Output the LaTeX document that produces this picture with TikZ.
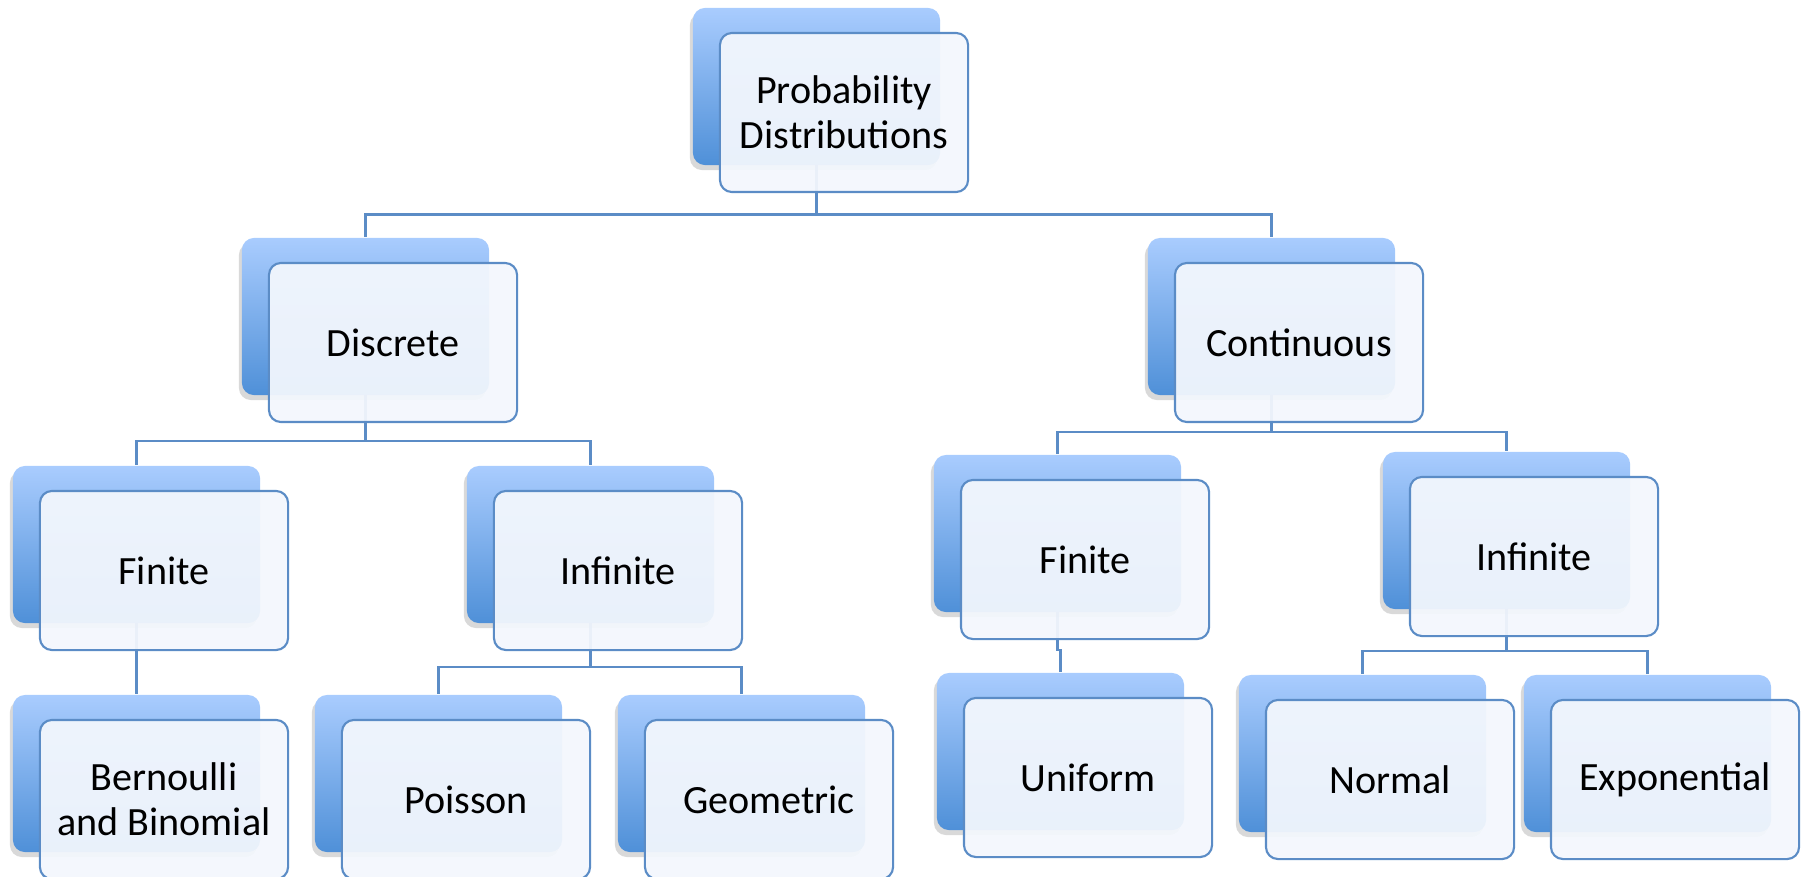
\documentclass[tikz,border=0pt]{standalone}
\usepackage{fontspec}
\setmainfont{Carlito}
\usepackage{tikz}
\usetikzlibrary{backgrounds, shadows}
\definecolor{backtop}{HTML}{A9CCFE}
\definecolor{backbot}{HTML}{4F90D8}
\definecolor{frontfill}{HTML}{F3F7FD}
\definecolor{edgeblue}{HTML}{5B8CC6}
\tikzset{
  backbox/.style={rectangle, rounded corners=0.12cm, inner sep=0pt,
    minimum width=2.47cm, minimum height=1.57cm,
    top color=backtop, bottom color=backbot, draw=none,
    drop shadow={shadow xshift=-0.03cm, shadow yshift=-0.05cm, opacity=0.15, fill=black}},
  frontbox/.style={rectangle, rounded corners=0.12cm, inner sep=0pt,
    minimum width=2.48cm, minimum height=1.59cm, align=center,
    draw=edgeblue, line width=0.6pt, fill=frontfill, fill opacity=0.94, text opacity=1,
    font=\fontsize{11.4}{12.8}\selectfont},
  link/.style={draw=edgeblue, line width=0.6pt}
}

\begin{document}
\begin{tikzpicture}[x=0.01cm, y=-0.01cm]
    \useasboundingbox (0,0) rectangle (1804,876);
    % level 0
    \node[backbox] (dist-b) at (816.5,86.5) {};
    \node[frontbox] (dist) at ([shift={(27.5,26)}]dist-b.center) {Probability\\Distributions};
    % level 1
    \node[backbox] (disc-b) at (365.5,316.5) {};
    \node[frontbox] (disc) at ([shift={(27.5,26)}]disc-b.center) {Discrete};
    \node[backbox] (cont-b) at (1271.5,316.5) {};
    \node[frontbox] (cont) at ([shift={(27.5,26)}]cont-b.center) {Continuous};
    % level 2
    \node[backbox] (dfin-b) at (136.5,544.5) {};
    \node[frontbox] (dfin) at ([shift={(27.5,26)}]dfin-b.center) {Finite};
    \node[backbox] (dinf-b) at (590.5,544.5) {};
    \node[frontbox] (dinf) at ([shift={(27.5,26)}]dinf-b.center) {Infinite};
    \node[backbox] (cfin-b) at (1057.5,533.5) {};
    \node[frontbox] (cfin) at ([shift={(27.5,26)}]cfin-b.center) {Finite};
    \node[backbox] (cinf-b) at (1506.5,530.5) {};
    \node[frontbox] (cinf) at ([shift={(27.5,26)}]cinf-b.center) {Infinite};
    % level 3
    \node[backbox] (bern-b) at (136.5,773.5) {};
    \node[frontbox] (bern) at ([shift={(27.5,26)}]bern-b.center) {Bernoulli\\and Binomial};
    \node[backbox] (pois-b) at (438.5,773.5) {};
    \node[frontbox] (pois) at ([shift={(27.5,26)}]pois-b.center) {Poisson};
    \node[backbox] (geom-b) at (741.5,773.5) {};
    \node[frontbox] (geom) at ([shift={(27.5,26)}]geom-b.center) {Geometric};
    \node[backbox] (unif-b) at (1060.5,751.5) {};
    \node[frontbox] (unif) at ([shift={(27.5,26)}]unif-b.center) {Uniform};
    \node[backbox] (norm-b) at (1362.5,753.5) {};
    \node[frontbox] (norm) at ([shift={(27.5,26)}]norm-b.center) {Normal};
    \node[backbox] (expo-b) at (1647.5,753.5) {};
    \node[frontbox] (expo) at ([shift={(27.5,26)}]expo-b.center) {Exponential};
    % connectors behind the boxes
    \begin{scope}[on background layer]
      \draw[link] (dist-b.center) -- ++(0,128) -| (disc-b.north);
      \draw[link] (dist-b.center) -- ++(0,128) -| (cont-b.north);
      \draw[link] (disc-b.center) -- ++(0,124.5) -| (dfin-b.north);
      \draw[link] (disc-b.center) -- ++(0,124.5) -| (dinf-b.north);
      \draw[link] (cont-b.center) -- ++(0,115.5) -| (cfin-b.north);
      \draw[link] (cont-b.center) -- ++(0,115.5) -| (cinf-b.north);
      \draw[link] (dfin-b.center) -- (bern-b.north);
      \draw[link] (dinf-b.center) -- ++(0,122.5) -| (pois-b.north);
      \draw[link] (dinf-b.center) -- ++(0,122.5) -| (geom-b.north);
      \draw[link] (cfin-b.center) -- ++(0,116.5) -| (unif-b.north);
      \draw[link] (cinf-b.center) -- ++(0,120.5) -| (norm-b.north);
      \draw[link] (cinf-b.center) -- ++(0,120.5) -| (expo-b.north);
    \end{scope}
  \end{tikzpicture}
\end{document}
